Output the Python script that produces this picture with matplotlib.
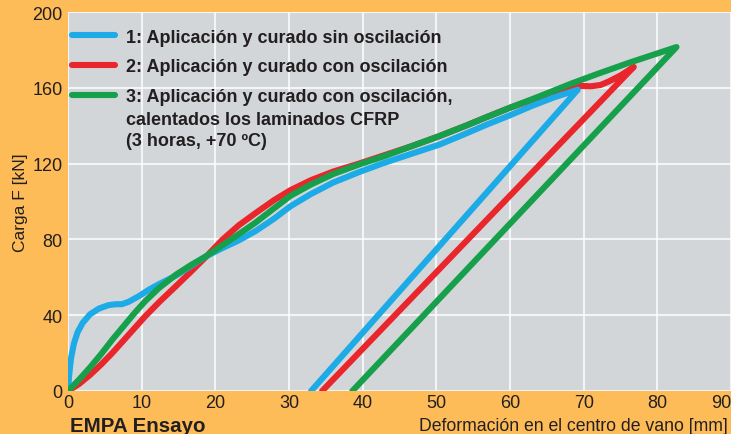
import matplotlib
matplotlib.use("Agg")
import matplotlib.pyplot as plt

plt.rcParams['font.family'] = ['Liberation Sans', 'DejaVu Sans']

# curve 1: without oscillation (loading, then unloading)
x_blue = [0, 0.15, 0.4, 0.8, 1.3, 2.0, 3.0, 4.2, 5.5, 6.5, 7.3, 8.2, 9.6, 11.0, 12.4, 14.7,
          16.7, 18.7, 21.0, 23.2, 25.5, 28.0, 30.2, 33.0, 36.0, 39.5, 43.0, 46.5, 50.4, 53.5,
          56.8, 60.0, 63.0, 66.0, 69.2, 33.0]
y_blue = [0, 8, 17, 25, 31, 36, 40.5, 43.5, 45.3, 45.8, 45.8, 47, 50, 53.5, 56.5, 61,
          66, 71, 75.5, 79.5, 84.5, 91, 97.5, 104, 110, 115.5, 120.5, 125, 130, 135,
          140.5, 145.5, 150.5, 155, 159, 0]

# curve 2: with oscillation
x_red = [0, 1.5, 3.0, 4.5, 6.0, 7.5, 9.0, 10.5, 12.4, 14.7, 16.7, 18.7, 21.0, 23.2, 25.5,
         28.0, 30.2, 33.0, 36.0, 39.5, 43.0, 46.5, 50.4, 54.0, 56.8, 60.0, 64.0, 68.0,
         69.6, 71.0, 72.3, 73.5, 75.0, 76.8, 34.5]
y_red = [0, 3.7, 8.5, 14, 20, 26.5, 33, 39.5, 47, 55.5, 63, 70.7, 80, 87.5, 94,
         100.8, 106, 111.3, 115.8, 120, 124.5, 129, 134.5, 140, 144.5, 149.5, 155, 160.5,
         161, 160.8, 161.5, 163.5, 166.5, 171, 0]

# curve 3: with oscillation, heated CFRP laminates
x_green = [0, 1.5, 3.0, 4.5, 6.0, 7.5, 9.0, 10.5, 12.4, 14.7, 16.7, 18.7, 21.0, 23.2, 25.5,
           28.0, 30.2, 33.0, 36.0, 39.5, 43.0, 46.5, 50.4, 54.0, 56.8, 60.0, 64.0, 68.5,
           72.0, 76.0, 79.5, 82.6, 38.6]
y_green = [0, 6, 12.5, 19.5, 27, 34, 41, 47.5, 54.5, 61.5, 66.5, 71, 77, 82.8, 89,
           96.5, 103, 109, 114.5, 119.5, 124, 129, 134.5, 140, 144.5, 149.5, 155.5, 162.5,
           167.5, 173, 177.5, 181.5, 0]

labels = ["1: Aplicación y curado sin oscilación",
          "2: Aplicación y curado con oscilación",
          "3: Aplicación y curado con oscilación,"]
label_extra = "calentados los laminados CFRP\n(3 horas, +70 ºC)"

x_ticks = [0, 10, 20, 30, 40, 50, 60, 70, 80, 90]
y_ticks = [0, 40, 80, 120, 160, 200]

orange = '#FDBC57'
txt = '#231F20'

fig = plt.figure(figsize=(7.31, 4.35), dpi=100, facecolor=orange)
ax = fig.add_axes([68 / 731, 43 / 435, 663 / 731, 379 / 435])
ax.set_facecolor('#D3D6D9')

lw = 4.4
style = dict(lw=lw, solid_capstyle='round', solid_joinstyle='round')
l_red, = ax.plot(x_red, y_red, color='#E8262C', zorder=3, **style)
l_blue, = ax.plot(x_blue, y_blue, color='#1CABE6', zorder=4, **style)
l_green, = ax.plot(x_green, y_green, color='#17A04B', zorder=5, **style)

ax.set_xlim(0, 90)
ax.set_ylim(0, 200)
ax.set_xticks(x_ticks)
ax.set_yticks(y_ticks)
ax.grid(True, color='white', lw=1.5, alpha=0.75)
ax.set_axisbelow(True)
for s in ax.spines.values():
    s.set_visible(False)
ax.tick_params(length=0, labelsize=13, labelcolor=txt)
ax.tick_params(axis='x', pad=2)
ax.tick_params(axis='y', pad=4)
ax.get_xticklabels()[-1].set_ha('right')

ax.set_ylabel("Carga F [kN]", fontsize=12.5, color=txt, labelpad=3)
fig.text(728 / 731, 1 - 427 / 435, "Deformación en el centro de vano [mm]", ha='right', va='center',
         fontsize=12.7, color=txt)
fig.text(70 / 731, 1 - 427 / 435, "EMPA Ensayo", ha='left', va='center', fontsize=14.8,
         fontweight='bold', color=txt)

leg = ax.legend([l_blue, l_red, l_green], labels, loc='upper left', bbox_to_anchor=(0.006, 0.956),
                frameon=False, borderpad=0, borderaxespad=0, handlelength=2.4, handletextpad=0.6,
                labelspacing=0.7, prop={'size': 13, 'weight': 'bold'}, labelcolor=txt)
for h in leg.legend_handles:
    h.set_linewidth(lw)
    h.set_solid_capstyle('round')
# the two extra lines of label 3 sit under its first line, drawn after the legend
ax.annotate(label_extra, xy=(0, 0), xycoords=leg.get_texts()[2], xytext=(0, -4.5),
            textcoords='offset points', ha='left', va='top', fontsize=13, fontweight='bold',
            color=txt, linespacing=1.28, zorder=10)

fig.savefig("out.png", dpi=100, facecolor=orange)
